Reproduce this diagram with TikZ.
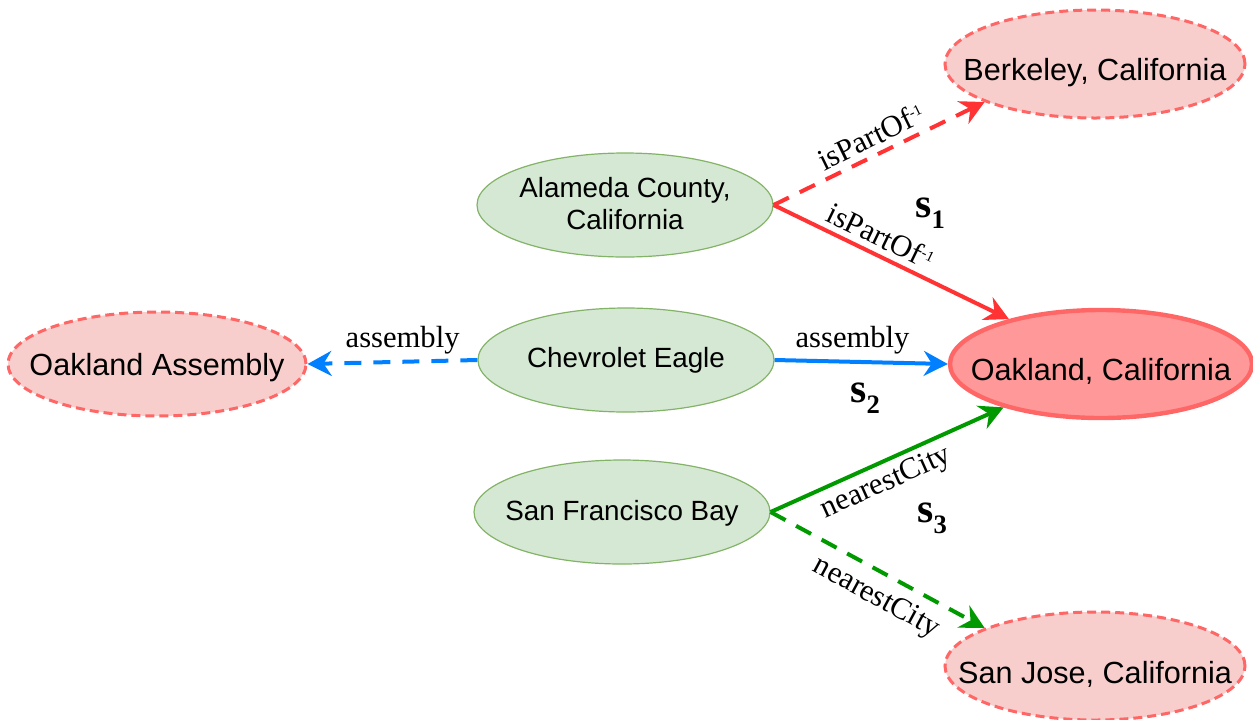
\documentclass[tikz,border=0pt]{standalone}
\usepackage{fontspec}
\setmainfont{Liberation Serif}
\newfontfamily\arialfont{Liberation Sans}
\usetikzlibrary{shapes.geometric,arrows.meta}

\definecolor{pinkfill}{HTML}{F8CECC}
\definecolor{pinkline}{HTML}{FF6666}
\definecolor{oakfill}{HTML}{FF9999}
\definecolor{greenfill}{HTML}{D5E8D4}
\definecolor{greenline}{HTML}{82B366}
\definecolor{redarrow}{HTML}{FF3333}
\definecolor{bluearrow}{HTML}{007FFF}
\definecolor{greenarrow}{HTML}{009900}

\newcommand{\ntext}[2][0pt]{\makebox[0pt]{\raisebox{#1}[\height][\depth]{#2}}}
\newcommand{\inv}{\raisebox{4.5pt}{\fontsize{7.5}{8}\selectfont -1}}
\newcommand{\ssub}[1]{\raisebox{-5.5pt}{\fontsize{13.3}{14}\selectfont\bfseries #1}}

\tikzset{
  seed/.style={ellipse, draw=greenline, line width=0.6pt, fill=greenfill,
    minimum width=148pt, minimum height=52pt, inner sep=0pt,
    font=\arialfont\fontsize{13.9}{16}\selectfont},
  answer/.style={ellipse, draw=pinkline, line width=1.5pt, dash pattern=on 4.5pt off 2.5pt,
    fill=pinkfill, minimum width=150pt, minimum height=54pt, inner sep=0pt,
    font=\arialfont\fontsize{15.3}{18}\selectfont},
  goal/.style={answer, solid, line width=2.2pt, fill=oakfill, minimum width=151pt, minimum height=54pt},
  rel/.style={line width=2pt, -{Stealth[length=12pt,width=12.5pt,inset=4pt]}},
  guess/.style={rel, dash pattern=on 8.5pt off 6pt},
  rlab/.style={font=\fontsize{15.3}{18}\selectfont, inner sep=3pt},
  slab/.style={font=\fontsize{20.8}{24}\selectfont\bfseries, inner sep=0pt, anchor=base west}
}

\begin{document}
\begin{tikzpicture}[x=0.5pt, y=-0.5pt]
\useasboundingbox (0,0) rectangle (1253,719);

\node[answer] (berk) at (1095,64) {\ntext[-4.3pt]{Berkeley, California}};
\node[goal] (oak) at (1101,364) {\ntext[-3.5pt]{Oakland, California}};
\node[answer] (sj) at (1095,666) {\ntext[-4pt]{San Jose, California}};
\node[answer, minimum width=149pt, minimum height=52pt] (asm) at (157,364) {\ntext[-2pt]{Oakland Assembly}};

\node[seed] (ala) at (625,205) {\ntext[-1.2pt]{\begin{tabular}{@{}c@{}}Alameda County,\\California\end{tabular}}};
\node[seed] (chev) at (626,360) {\ntext{Chevrolet Eagle}};
\node[seed] (sfb) at (622,512) {\ntext[-0.5pt]{San Francisco Bay}};

\draw[guess, redarrow] (ala.east) -- node[rlab, sloped, above, pos=.5, text=black] {isPartOf\inv} (berk.199);
\draw[rel, redarrow] (ala.east) -- node[rlab, sloped, above, pos=.42, text=black] {isPartOf\inv} (oak.154);

\draw[rel, bluearrow] (chev.east) -- node[rlab, above, pos=.45, text=black] {assembly} (oak.west);
\draw[guess, bluearrow] (chev.west) -- node[rlab, above, pos=.44, text=black] {assembly} (asm.east);

\draw[rel, greenarrow] (sfb.east) -- node[rlab, sloped, below, pos=.46, text=black] {nearestCity} (oak.204);
\draw[guess, greenarrow] (sfb.east) -- node[rlab, sloped, below=2pt, pos=.55, text=black] {nearestCity} (sj.161);

\node[slab] (s1) at (915,217) {s\ssub{1}};
\node[slab] (s2) at (850,402) {s\ssub{2}};
\node[slab] (s3) at (917,522) {s\ssub{3}};

\end{tikzpicture}
\end{document}
